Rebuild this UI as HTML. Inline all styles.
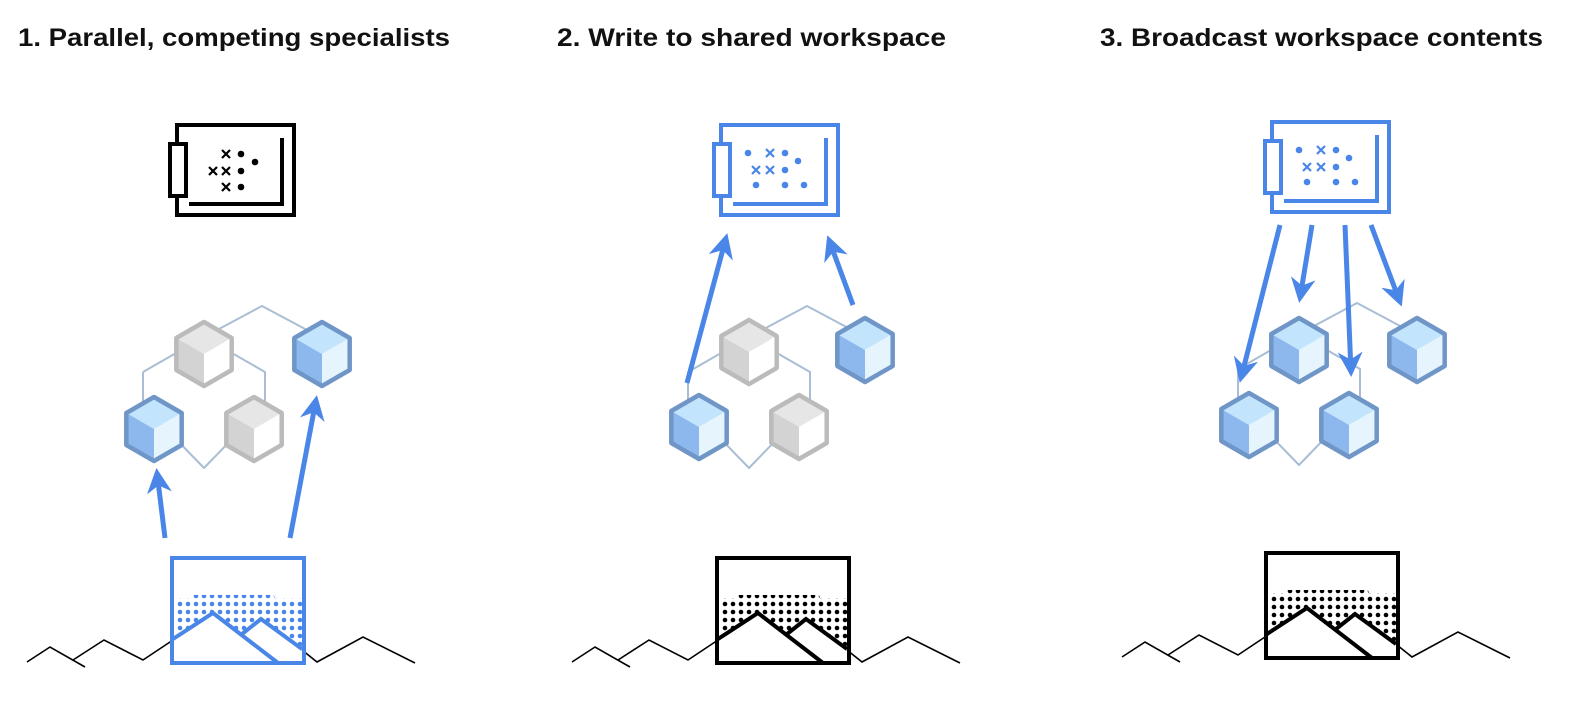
<!DOCTYPE html>
<html><head><meta charset="utf-8"><style>
html,body{margin:0;padding:0;background:#fff;width:1582px;height:703px;overflow:hidden}
svg{display:block}
text{font-family:"Liberation Sans",sans-serif;font-weight:bold;font-size:25px;fill:#111}
</style></head><body>
<svg width="1582" height="703" viewBox="0 0 1582 703">
<defs>
<g id="cb">
<polygon points="-27.7,-16 0,-32 27.7,-16 0,0" fill="#c2e4fc"/>
<polygon points="-27.7,-16 0,0 0,32 -27.7,16" fill="#8cb8ee"/>
<polygon points="27.7,-16 0,0 0,32 27.7,16" fill="#e6f5fd"/>
<polygon points="0,-32 27.7,-16 27.7,16 0,32 -27.7,16 -27.7,-16" fill="none" stroke="#7096c8" stroke-width="4.5" stroke-linejoin="round"/>
</g>
<g id="cg">
<polygon points="-27.7,-16 0,-32 27.7,-16 0,0" fill="#e6e6e6"/>
<polygon points="-27.7,-16 0,0 0,32 -27.7,16" fill="#d3d3d3"/>
<polygon points="27.7,-16 0,0 0,32 27.7,16" fill="#fff"/>
<polygon points="0,-32 27.7,-16 27.7,16 0,32 -27.7,16 -27.7,-16" fill="none" stroke="#bbb" stroke-width="4.5" stroke-linejoin="round"/>
</g>
<g id="net" fill="none" stroke="#a9bdd4" stroke-width="2" stroke-linejoin="round">
<path d="M143,372 L204,337 L262,306 L322,338"/>
<path d="M143,372 V405 L204,468 L265,405 V372 L204,337"/>
</g>
<pattern id="dk" width="8" height="8" patternUnits="userSpaceOnUse"><circle cx="4" cy="4" r="2.3" fill="#000"/></pattern>
<pattern id="db" width="8" height="8" patternUnits="userSpaceOnUse"><circle cx="4" cy="4" r="2.3" fill="#4a86e8"/></pattern>
<clipPath id="dc"><polygon points="175,598 190,598 197,590 210,590 215,583 228,583 235,590 245,583 258,583 262,590 272,590 275,598 302,598 302,650 261,619 242,634 213,613 175,639"/></clipPath>
<marker id="ar" viewBox="0 0 10 10" refX="8" refY="5" markerWidth="5" markerHeight="5" orient="auto" markerUnits="strokeWidth"><path d="M0,0 L10,5 L0,10 L3,5 z" fill="#4a86e8"/></marker>
<g id="frame">
<rect x="175" y="595" width="128" height="60" fill="url(#dk)" clip-path="url(#dc)"/>
<rect x="172" y="558" width="132" height="105" fill="none" stroke="#000" stroke-width="4"/>
<polyline points="173,639 213,613 278,663" fill="none" stroke="#000" stroke-width="4"/>
<polyline points="242,634 261,619 302,649" fill="none" stroke="#000" stroke-width="4"/>
</g>
<g id="lines" fill="none" stroke="#000" stroke-width="1.6">
<polyline points="27,662 50,647 85,667"/>
<polyline points="73,660 104,640 143,660 173,640"/>
<polyline points="302,650 317,662 363,637 415,663"/>
</g>
</defs>

<text x="18" y="46" textLength="432" lengthAdjust="spacingAndGlyphs">1. Parallel, competing specialists</text>
<text x="557" y="46" textLength="389" lengthAdjust="spacingAndGlyphs">2. Write to shared workspace</text>
<text x="1100" y="46" textLength="443" lengthAdjust="spacingAndGlyphs">3. Broadcast workspace contents</text>

<!-- Panel 1 -->
<g>
<rect x="177" y="125" width="117" height="90" fill="none" stroke="#000" stroke-width="4"/>
<rect x="170" y="144" width="16" height="52" fill="#fff" stroke="#000" stroke-width="4"/>
<polyline points="282,138 282,204 189,204" fill="none" stroke="#000" stroke-width="4"/>
<g fill="#000" stroke="#000" stroke-width="2.2">
<path d="M222,150l8,8m0,-8l-8,8 M209,167l8,8m0,-8l-8,8 M222,167l8,8m0,-8l-8,8 M222,183l8,8m0,-8l-8,8"/>
<circle cx="241" cy="154" r="3.3" stroke="none"/><circle cx="255" cy="162" r="3.3" stroke="none"/>
<circle cx="241" cy="171" r="3.3" stroke="none"/><circle cx="241" cy="187" r="3.3" stroke="none"/>
</g>
<use href="#net"/>
<use href="#cg" x="204" y="354"/><use href="#cb" x="322" y="354"/>
<use href="#cb" x="154" y="429"/><use href="#cg" x="254" y="429"/>
<line x1="165" y1="538" x2="157" y2="473" stroke="#4a86e8" stroke-width="5" marker-end="url(#ar)"/>
<line x1="290" y1="538" x2="316" y2="400" stroke="#4a86e8" stroke-width="5" marker-end="url(#ar)"/>
<use href="#lines"/>
<rect x="175" y="595" width="128" height="60" fill="url(#db)" clip-path="url(#dc)"/>
<rect x="172" y="558" width="132" height="105" fill="none" stroke="#4a86e8" stroke-width="4"/>
<polyline points="173,639 213,613 278,663" fill="none" stroke="#4a86e8" stroke-width="4"/>
<polyline points="242,634 261,619 302,649" fill="none" stroke="#4a86e8" stroke-width="4"/>
</g>

<!-- Panel 2 -->
<g transform="translate(5,0)">
<rect x="716" y="125" width="117" height="90" fill="none" stroke="#4a86e8" stroke-width="4"/>
<rect x="709" y="144" width="16" height="52" fill="#fff" stroke="#4a86e8" stroke-width="4"/>
<polyline points="821,138 821,204 728,204" fill="none" stroke="#4a86e8" stroke-width="4"/>
<g fill="#4a86e8" stroke="#4a86e8" stroke-width="2.2">
<path d="M761,149l8,8m0,-8l-8,8 M747,166l8,8m0,-8l-8,8 M761,166l8,8m0,-8l-8,8"/>
<circle cx="743" cy="153" r="3.3" stroke="none"/><circle cx="780" cy="153" r="3.3" stroke="none"/>
<circle cx="793" cy="161" r="3.3" stroke="none"/><circle cx="780" cy="170" r="3.3" stroke="none"/>
<circle cx="751" cy="185" r="3.3" stroke="none"/><circle cx="780" cy="185" r="3.3" stroke="none"/>
<circle cx="799" cy="185" r="3.3" stroke="none"/>
</g>
<use href="#net" x="540"/>
<use href="#cg" x="744" y="352"/><use href="#cb" x="860" y="350"/>
<use href="#cb" x="694" y="427"/><use href="#cg" x="794" y="427"/>
<line x1="682" y1="383" x2="721" y2="238" stroke="#4a86e8" stroke-width="5" marker-end="url(#ar)"/>
<line x1="848" y1="305" x2="824" y2="240" stroke="#4a86e8" stroke-width="5" marker-end="url(#ar)"/>
<use href="#lines" x="540"/>
<use href="#frame" x="540"/>
</g>

<!-- Panel 3 -->
<g>
<rect x="1272" y="122" width="117" height="90" fill="none" stroke="#4a86e8" stroke-width="4"/>
<rect x="1265" y="141" width="16" height="52" fill="#fff" stroke="#4a86e8" stroke-width="4"/>
<polyline points="1377,135 1377,201 1284,201" fill="none" stroke="#4a86e8" stroke-width="4"/>
<g fill="#4a86e8" stroke="#4a86e8" stroke-width="2.2">
<path d="M1317,146l8,8m0,-8l-8,8 M1303,163l8,8m0,-8l-8,8 M1317,163l8,8m0,-8l-8,8"/>
<circle cx="1299" cy="150" r="3.3" stroke="none"/><circle cx="1336" cy="150" r="3.3" stroke="none"/>
<circle cx="1349" cy="158" r="3.3" stroke="none"/><circle cx="1336" cy="167" r="3.3" stroke="none"/>
<circle cx="1307" cy="182" r="3.3" stroke="none"/><circle cx="1336" cy="182" r="3.3" stroke="none"/>
<circle cx="1355" cy="182" r="3.3" stroke="none"/>
</g>
<use href="#net" x="1095" y="-3"/>
<use href="#cb" x="1299" y="350"/><use href="#cb" x="1417" y="350"/>
<use href="#cb" x="1249" y="425"/><use href="#cb" x="1349" y="425"/>
<line x1="1280" y1="225" x2="1241" y2="378" stroke="#4a86e8" stroke-width="5" marker-end="url(#ar)"/>
<line x1="1312" y1="225" x2="1300" y2="298" stroke="#4a86e8" stroke-width="5" marker-end="url(#ar)"/>
<line x1="1345" y1="225" x2="1351" y2="372" stroke="#4a86e8" stroke-width="5" marker-end="url(#ar)"/>
<line x1="1371" y1="225" x2="1400" y2="302" stroke="#4a86e8" stroke-width="5" marker-end="url(#ar)"/>
<use href="#lines" x="1095" y="-5"/>
<use href="#frame" x="1094" y="-5"/>
</g>
</svg>
</body></html>
